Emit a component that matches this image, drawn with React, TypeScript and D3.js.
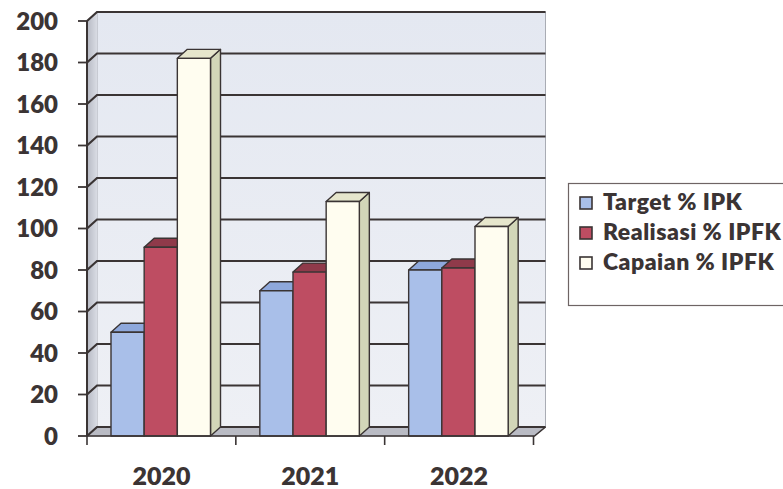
import React from "react";
import * as d3 from "d3";

const categories = ["2020", "2021", "2022"];
const seriesNames = ["Target % IPK", "Realisasi % IPFK", "Capaian % IPFK"];
const target = [50, 70, 80];
const realisasi = [91, 79, 81];
const capaian = [182, 113, 101];
const yTicks = [0, 20, 40, 60, 80, 100, 120, 140, 160, 180, 200];

const W = 783;
const H = 489;
const FONT = "Lato, 'Open Sans', sans-serif";
const TEXT = "#3b3434";
const LINE = "#3a3434";

// face colours per series: front, top, side
const palette = [
  { front: "#a9bfe9", top: "#8ea8dc", side: "#7d96c8" },
  { front: "#be4d62", top: "#8f3a4a", side: "#8a3545" },
  { front: "#fffdf0", top: "#e6e6cc", side: "#d2d6b8" },
];

export default function App() {
  const values = [target, realisasi, capaian];
  const left = 87;
  const right = 533.5;
  const yFront0 = 436;
  const yFront200 = 21;
  const dx = 10;
  const dy = 9;

  const y = d3.scaleLinear().domain([0, 200]).range([yFront0, yFront200]);
  const x = d3.scaleBand<string>().domain(categories).range([left, right]).padding(0);
  const inner = d3
    .scaleBand<number>()
    .domain([0, 1, 2])
    .range([24, 24 + 99.5])
    .padding(0);

  const wallRight = right + dx + 2;
  const top = y(200) - dy;
  const floorBack = yFront0 - dy;

  const bars: React.ReactNode[] = [];
  categories.forEach((c, ci) => {
    values.forEach((vals, si) => {
      const x0 = (x(c) as number) + (inner(si) as number);
      const x1 = x0 + inner.bandwidth();
      const yt = y(vals[ci]);
      const yb = yFront0;
      const col = palette[si];
      bars.push(
        <g key={`${ci}-${si}`} stroke={LINE} strokeWidth={1.4} strokeLinejoin="round">
          <polygon
            points={`${x1},${yb} ${x1 + dx},${yb - dy} ${x1 + dx},${yt - dy} ${x1},${yt}`}
            fill={col.side}
          />
          <polygon
            points={`${x0},${yt} ${x0 + dx},${yt - dy} ${x1 + dx},${yt - dy} ${x1},${yt}`}
            fill={col.top}
          />
          <rect x={x0} y={yt} width={x1 - x0} height={yb - yt} fill={col.front} />
        </g>
      );
    });
  });

  return (
    <svg
      width={W}
      height={H}
      viewBox={`0 0 ${W} ${H}`}
      style={{ position: "absolute", left: 0, top: 0, background: "#fff" }}
    >
      <defs>
        <linearGradient id="wallBack" x1="0" y1="0" x2="0" y2="1">
          <stop offset="0" stopColor="#e4e8f1" />
          <stop offset="1" stopColor="#eef0f5" />
        </linearGradient>
        <linearGradient id="wallSide" x1="0" y1="0" x2="1" y2="0">
          <stop offset="0" stopColor="#b6b9c3" />
          <stop offset="1" stopColor="#d9dce4" />
        </linearGradient>
      </defs>

      {/* back wall */}
      <rect
        x={left + dx}
        y={top}
        width={wallRight - (left + dx)}
        height={floorBack - top}
        fill="url(#wallBack)"
        stroke="#a9acb4"
        strokeWidth={1}
      />
      {/* side wall */}
      <polygon
        points={`${left},${yFront0} ${left},${y(200)} ${left + dx},${top} ${left + dx},${floorBack}`}
        fill="url(#wallSide)"
      />
      {/* floor */}
      <polygon
        points={`${left},${yFront0} ${right + 1},${yFront0} ${wallRight},${floorBack} ${left + dx},${floorBack}`}
        fill="#b9bbc4"
        stroke="#8e9099"
        strokeWidth={0.8}
      />

      {/* gridlines */}
      {yTicks.map((t) => (
        <polyline
          key={t}
          points={`${left},${y(t)} ${left + dx},${y(t) - dy} ${wallRight},${y(t) - dy}`}
          stroke={LINE}
          strokeWidth={2.2}
          fill="none"
        />
      ))}

      {bars}

      {/* value axis */}
      <line x1={left} y1={y(200)} x2={left} y2={yFront0} stroke={LINE} strokeWidth={2} />
      {yTicks.map((t) => (
        <g key={`yt${t}`}>
          <line x1={left - 9} x2={left} y1={y(t)} y2={y(t)} stroke={LINE} strokeWidth={1.8} />
          <text
            x={58}
            y={y(t)}
            dy="0.36em"
            textAnchor="end"
            fontFamily={FONT}
            fontWeight={800}
            fontSize={24}
            fill={TEXT}
          >
            {t}
          </text>
        </g>
      ))}

      {/* category axis */}
      <polyline
        points={`${left},${yFront0} ${right + 1},${yFront0} ${wallRight},${floorBack}`}
        stroke={LINE}
        strokeWidth={1.6}
        fill="none"
      />
      {[...categories.map((c) => x(c) as number), right].map((tx, i) => (
        <line key={`xt${i}`} x1={tx} x2={tx} y1={yFront0} y2={yFront0 + 9} stroke={LINE} strokeWidth={1.6} />
      ))}
      {categories.map((c) => (
        <text
          key={`xl${c}`}
          x={(x(c) as number) + x.bandwidth() / 2}
          y={485}
          textAnchor="middle"
          fontFamily={FONT}
          fontWeight={800}
          fontSize={25}
          fill={TEXT}
        >
          {c}
        </text>
      ))}

      {/* legend */}
      <rect x={568.5} y={183.5} width={230} height={122} fill="#fff" stroke="#6e6464" strokeWidth={1.2} />
      {seriesNames.map((s, i) => {
        const base = 210 + i * 30;
        return (
          <g key={s}>
            <rect x={580} y={base - 13} width={12} height={12} fill={palette[i].front} stroke={LINE} strokeWidth={1.6} />
            <text
              x={603}
              y={base}
              fontFamily={FONT}
              fontWeight={800}
              fontSize={23}
              letterSpacing={0.5}
              fill={TEXT}
            >
              {s}
            </text>
          </g>
        );
      })}
    </svg>
  );
}
